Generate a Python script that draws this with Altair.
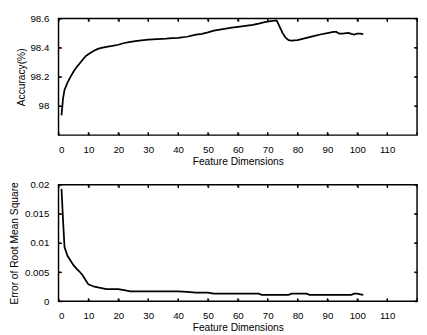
import altair as alt
import pandas as pd

# Accuracy curve (upper panel)
acc_x = [1, 1.5, 2, 3, 4, 5, 6, 7, 8, 9, 10, 11, 12, 13, 14, 16, 18, 20, 22, 24, 27, 30, 33, 36, 38, 40, 43, 46, 48, 50, 52, 55, 58, 60, 62, 65, 67, 69, 71, 73, 74, 75, 76, 77, 78, 80, 82, 84, 86, 88, 90, 92, 93, 94, 95, 97, 98, 99, 100, 101, 102]
acc_y = [97.935, 98.05, 98.11, 98.16, 98.2, 98.235, 98.265, 98.29, 98.315, 98.34, 98.355, 98.368, 98.38, 98.39, 98.397, 98.405, 98.412, 98.42, 98.432, 98.44, 98.449, 98.455, 98.458, 98.462, 98.466, 98.467, 98.475, 98.49, 98.495, 98.505, 98.517, 98.528, 98.537, 98.543, 98.548, 98.556, 98.565, 98.575, 98.582, 98.587, 98.545, 98.5, 98.468, 98.452, 98.449, 98.452, 98.462, 98.472, 98.482, 98.492, 98.5, 98.508, 98.508, 98.496, 98.497, 98.502, 98.495, 98.49, 98.497, 98.496, 98.493]

# Root-mean-square error curve (lower panel)
err_x = [1, 1.5, 2, 3, 4, 5, 6, 7, 8, 9, 10, 11, 12, 14, 16, 18, 20, 22, 24, 28, 32, 36, 40, 43, 46, 50, 52, 56, 60, 64, 67, 68, 70, 74, 77, 78, 80, 83, 84, 88, 92, 96, 98, 99, 100, 101, 102]
err_y = [0.0193, 0.014, 0.0093, 0.0078, 0.0070, 0.0062, 0.0056, 0.0051, 0.0045, 0.0037, 0.0029, 0.0027, 0.0025, 0.0023, 0.0021, 0.0021, 0.0021, 0.0019, 0.0017, 0.0017, 0.0017, 0.0017, 0.0017, 0.0016, 0.0015, 0.0015, 0.0013, 0.0013, 0.0013, 0.0013, 0.0013, 0.0011, 0.0011, 0.0011, 0.0011, 0.0013, 0.0013, 0.0013, 0.0011, 0.0011, 0.0011, 0.0011, 0.0011, 0.0013, 0.0013, 0.0012, 0.0011]

x_ticks = [0, 10, 20, 30, 40, 50, 60, 70, 80, 90, 100, 110, 120]
x_labels = [0, 10, 20, 30, 40, 50, 60, 70, 80, 90, 100, 110]
acc_ticks = [98, 98.2, 98.4, 98.6]
err_ticks = [0, 0.005, 0.01, 0.015, 0.02]

W = 369
H = 120
TL = 3  # inward tick length
FONT = "Liberation Sans"


def panel(xs, ys, ydomain, yticks, ytitle, title_x):
    df = pd.DataFrame({"x": xs, "y": ys})
    xs_ = alt.Scale(domain=[0, 120], nice=False, zero=False)
    ys_ = alt.Scale(domain=ydomain, nice=False, zero=False)
    xa = alt.Axis(
        orient="bottom", values=x_labels, tickOpacity=0, domain=False,
        grid=True, gridColor="black", gridOpacity=1, gridWidth=1,
        gridDash=[TL, H - 2 * TL, TL, 1000],
        labelPadding=5, labelFontSize=10, labelFont=FONT, labelColor="black",
        title="Feature Dimensions", titleFont=FONT, titleFontSize=10.5,
        titleFontWeight="normal", titleColor="black", titlePadding=2)
    ya = alt.Axis(
        orient="left", values=yticks, tickOpacity=0, domain=False,
        grid=True, gridColor="black", gridOpacity=1, gridWidth=1,
        gridDash=[TL, W - 2 * TL, TL, 1000],
        format="~g", labelPadding=5, labelFontSize=10, labelFont=FONT, labelColor="black",
        title=ytitle, titleFont=FONT, titleFontSize=10.5, titleFontWeight="normal",
        titleColor="black", titleX=title_x, titleBaseline="alphabetic")
    X = lambda: alt.X("x:Q", scale=xs_, axis=xa)
    Y = lambda: alt.Y("y:Q", scale=ys_, axis=ya)
    main = alt.Chart(df).mark_line(color="black", strokeWidth=1.8).encode(x=X(), y=Y())
    xt = alt.Chart(pd.DataFrame({"x": x_ticks}))
    yt = alt.Chart(pd.DataFrame({"y": yticks}))
    rule = dict(color="black", strokeWidth=1.2)
    top_ticks = xt.mark_rule(**rule).encode(x=X(), y=alt.value(0), y2=alt.value(TL))
    bot_ticks = xt.mark_rule(**rule).encode(x=X(), y=alt.value(H - TL), y2=alt.value(H))
    left_ticks = yt.mark_rule(**rule).encode(y=Y(), x=alt.value(0), x2=alt.value(TL))
    right_ticks = yt.mark_rule(**rule).encode(y=Y(), x=alt.value(W - TL), x2=alt.value(W))
    return alt.layer(main, top_ticks, bot_ticks, left_ticks, right_ticks).properties(
        width=W, height=H)


top = panel(acc_x, acc_y, [97.8, 98.6], acc_ticks, "Accuracy(%)", -35.5)
bottom = panel(err_x, err_y, [0, 0.02], err_ticks, "Error of Root Mean Square", -42.5)

chart = alt.vconcat(top, bottom, spacing=51, bounds="flush").properties(
    padding=0, background="white"
).configure_view(stroke="black", strokeWidth=1.5)

chart.save("out.html", embed_options={"renderer": "svg", "actions": False})
